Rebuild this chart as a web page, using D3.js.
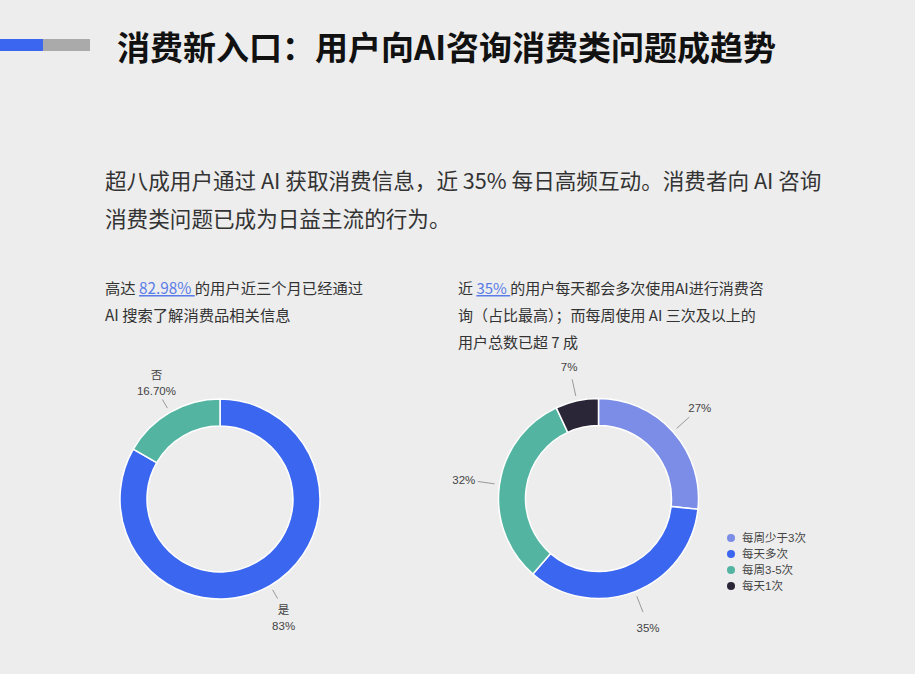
<!DOCTYPE html>
<html><head><meta charset="utf-8">
<script src="https://cdn.jsdelivr.net/npm/d3@7/dist/d3.min.js"></script>
<style>
html,body{margin:0;padding:0;background:#ededed;}
svg{display:block;font-family:"Noto Sans CJK SC","Noto Sans",sans-serif;}
</style></head>
<body>
<svg id="chart" width="915" height="674"></svg>
<script>
const titleText = "消费新入口：用户向AI咨询消费类问题成趋势";
const introLines = ["超八成用户通过 AI 获取消费信息，近 35% 每日高频互动。消费者向 AI 咨询", "消费类问题已成为日益主流的行为。"];

const leftCategories = ["是", "否"];
const leftValues = [83.3, 16.7];
const leftLabels = ["83%", "16.70%"];
const leftColors = ["#3b66ef", "#53b5a1"];

const rightCategories = ["每周少于3次", "每天多次", "每周3-5次", "每天1次"];
const rightValues = [27, 35, 32, 7];
const rightLabels = ["27%", "35%", "32%", "7%"];
const rightColors = ["#7b8de6", "#3b66ef", "#53b5a1", "#2a2638"];

const svg = d3.select("#chart");
const textColor = "#333";
const labelFont = '"Liberation Sans","Noto Sans CJK SC",sans-serif';

// header bar
svg.append("rect").attr("x",0).attr("y",39).attr("width",43).attr("height",12).attr("fill","#3b66ef");
svg.append("rect").attr("x",43).attr("y",39).attr("width",47).attr("height",12).attr("fill","#aaaaaa");
svg.append("text").attr("x",117).attr("y",60).attr("font-size",33).attr("font-weight",700)
  .attr("fill","#111").text(titleText);

// intro paragraph
introLines.forEach((t,i)=>{
  svg.append("text").attr("x",105).attr("y",189+i*38).attr("font-size",21.6).attr("fill",textColor).text(t);
});

// subtitles with link-styled numbers
function richLine(x,y,parts,fs){
  const t = svg.append("text").attr("x",x).attr("y",y).attr("font-size",fs||15).attr("fill",textColor).attr("xml:space","preserve");
  parts.forEach(p=>{
    const s = t.append("tspan").text(p.t);
    if(p.link){ s.attr("fill","#5a7ce8").attr("text-decoration","underline"); }
  });
  return t;
}
richLine(105,294,[{t:"高达 "},{t:"82.98% ",link:true},{t:"的用户近三个月已经通过"}],15.3);
richLine(105,321,[{t:"AI 搜索了解消费品相关信息"}],15.3);
richLine(458,294,[{t:"近 "},{t:"35% ",link:true},{t:"的用户每天都会多次使用AI进行消费咨"}]);
richLine(458,321,[{t:"询（占比最高）；而每周使用 AI 三次及以上的"}]);
richLine(458,348,[{t:"用户总数已超 7 成"}]);

function donut(cx,cy,values,colors,labels,cats,lineLen,twoLine){
  const R=100, r=73;
  const pie = d3.pie().sort(null).value(d=>d)(values);
  const arc = d3.arc().innerRadius(r).outerRadius(R);
  const g = svg.append("g").attr("transform",`translate(${cx},${cy})`);
  g.selectAll("path").data(pie).enter().append("path")
    .attr("d",arc).attr("fill",(d,i)=>colors[i]).attr("stroke","#fff").attr("stroke-width",1.5);
  pie.forEach((d,i)=>{
    const a=(d.startAngle+d.endAngle)/2, s=Math.sin(a), c=-Math.cos(a);
    const r1=105, r2=105+lineLen;
    const x1=s*r1,y1=c*r1,x2=s*r2,y2=c*r2;
    g.append("line").attr("x1",x1).attr("y1",y1).attr("x2",x2).attr("y2",y2)
      .attr("stroke","#999").attr("stroke-width",1);
    if(twoLine){
      const hw=20, hh=17;
      const lx=x2+s*(hw*0.5+2), ly=y2+c*(hh+2)+(c>0?3:0);
      const t=g.append("text").attr("text-anchor","middle").attr("font-size",11.5)
        .attr("font-family",labelFont).attr("fill","#444");
      t.append("tspan").attr("x",lx).attr("y",ly-4).text(cats[i]);
      t.append("tspan").attr("x",lx).attr("y",ly+12).text(labels[i]);
    } else {
      const hw=12, hh=7;
      const lx=x2+s*(hw+2), ly=y2+c*(hh+2)+(c>0?c*8.5:c*4);
      g.append("text").attr("x",lx).attr("y",ly+4).attr("text-anchor","middle")
        .attr("font-size",11.5).attr("font-family",labelFont).attr("fill","#444").text(labels[i]);
    }
  });
}
donut(220,499,leftValues,leftColors,leftLabels,leftCategories,10,true);
donut(598.5,498.5,rightValues,rightColors,rightLabels,rightCategories,17,false);

// legend
const lg = svg.append("g");
rightCategories.forEach((c,i)=>{
  lg.append("circle").attr("cx",731).attr("cy",538+i*16).attr("r",4).attr("fill",rightColors[i]);
  lg.append("text").attr("x",742).attr("y",542+i*16).attr("font-size",11.5)
    .attr("font-family",labelFont).attr("fill","#444").text(c);
});
</script>
</body></html>
